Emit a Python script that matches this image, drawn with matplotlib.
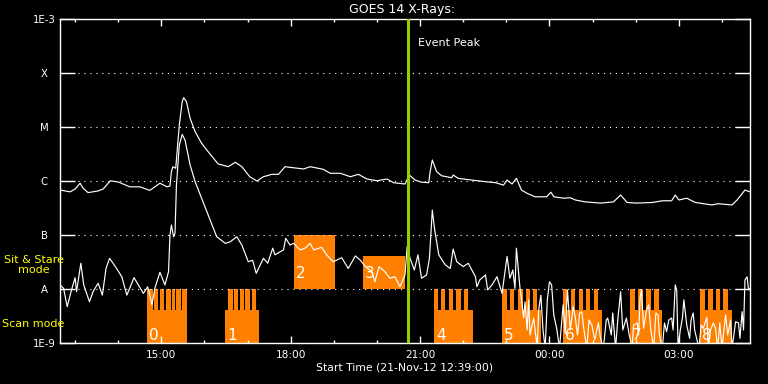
import matplotlib
matplotlib.use("Agg")
import matplotlib.pyplot as plt
from matplotlib.ticker import FixedLocator, NullLocator
import matplotlib.transforms as mtransforms

# minutes after start time 21-Nov-12 12:39:00
long_t = [0, 14, 21, 28, 32, 39, 52, 60, 70, 81, 97, 111, 125, 139, 149, 153, 155, 157, 161, 166,
          170, 172, 176, 181, 188, 197, 206, 220, 234, 244, 253, 264, 274, 283, 295, 304, 313, 320, 339, 348,
          366, 376, 390, 404, 415, 427, 441, 455, 464, 480, 486, 494, 503, 513, 515, 518, 524, 531, 545, 547,
          554, 573, 592, 606, 617, 622, 629, 635, 642, 650, 661, 677, 683, 687, 701, 710, 717, 731, 752, 770,
          780, 789, 802, 824, 838, 851, 856, 861, 872, 884, 907, 916, 935, 942, 953, 960]
long_f = [6.8e-7, 6.3e-7, 7.1e-7, 9.1e-7, 7.4e-7, 6.1e-7, 6.5e-7, 7.1e-7, 1.01e-6, 9.6e-7,
          7.8e-7, 7.8e-7, 6.7e-7, 9.1e-7, 7.8e-7, 8.1e-7, 1.49e-6, 1.84e-6, 1.72e-6, 1.09e-5,
          2.94e-5, 3.49e-5, 2.94e-5, 1.45e-5, 8.2e-6, 5.0e-6, 3.5e-6, 2.07e-6, 1.84e-6, 2.22e-6,
          1.84e-6, 1.2e-6, 1.0e-6, 1.2e-6, 1.33e-6, 1.33e-6, 1.84e-6, 1.79e-6, 1.67e-6, 1.84e-6,
          1.65e-6, 1.39e-6, 1.39e-6, 1.2e-6, 1.33e-6, 1.09e-6, 1.01e-6, 1.09e-6, 9.3e-7, 8.8e-7,
          1.29e-6, 1.04e-6, 9.5e-7, 9.3e-7, 1.49e-6, 2.45e-6, 1.49e-6, 1.25e-6, 1.15e-6, 1.29e-6,
          1.12e-6, 1.04e-6, 9.7e-7, 9.3e-7, 8.4e-7, 1.04e-6, 8.8e-7, 1.12e-6, 6.8e-7, 5.9e-7,
          5.1e-7, 5.1e-7, 6.2e-7, 5.1e-7, 4.8e-7, 4.9e-7, 4.45e-7, 4.1e-7, 3.9e-7, 4.1e-7,
          5.5e-7, 4.0e-7, 3.9e-7, 4.0e-7, 4.3e-7, 4.3e-7, 5.5e-7, 4.45e-7, 4.8e-7, 4.0e-7,
          3.6e-7, 3.8e-7, 3.6e-7, 4.45e-7, 6.8e-7, 6.3e-7]

short_t = [0, 5, 10, 16, 21, 23, 29, 33, 41, 46, 53, 59, 64, 69, 77, 86, 93, 103, 109, 116,
           122, 128, 132, 139, 146, 151, 153, 155, 158, 160, 162, 166, 170, 174, 181, 188, 197, 206, 218, 230,
           237, 246, 253, 262, 268, 273, 283, 289, 296, 299, 311, 314, 320, 325, 334, 341, 348, 353, 364, 371,
           380, 392, 401, 411, 418, 425, 434, 438, 444, 452, 459, 466, 473, 480, 483, 487, 493, 498, 503, 510,
           514, 518, 521, 527, 536, 543, 547, 552, 561, 568, 578, 580, 584, 592, 595, 601, 608, 615, 622, 626,
           630, 633, 635,
           640, 642, 645, 647, 650, 652, 654, 659, 664, 666, 669, 672, 675, 678, 681, 684, 687, 691, 695, 700,
           703, 706, 710, 714, 717, 720, 723, 726, 729, 733, 736, 740, 744, 749, 752, 756, 760, 762, 767, 769,
           773, 776, 780, 783, 788, 792, 796, 798, 803, 805, 807, 809, 812, 816, 819, 822, 826, 829, 832, 834,
           838, 841, 844, 847, 851, 853, 856, 858, 860, 863, 866, 868, 872, 876, 878, 881, 883, 889, 892, 895,
           900, 902, 905, 909, 912, 915, 918, 921, 926, 929, 933, 935, 940, 944, 946, 949, 951, 953, 956, 958,
           960]
short_f = [1.19e-8, 1.03e-8, 4.7e-9, 9.6e-9, 1.62e-8, 8.9e-9, 3.0e-8, 1.19e-8, 5.8e-9, 8.9e-9,
           1.28e-8, 7.7e-9, 2.4e-8, 3.7e-8, 2.6e-8, 1.69e-8, 7.7e-9, 1.62e-8, 1.19e-8, 8.3e-9,
           1.1e-8, 5.1e-9, 1.03e-8, 2.04e-8, 1.19e-8, 2.09e-8, 1.0e-7, 1.53e-7, 9.3e-8, 1.07e-7,
           8.4e-7, 4.6e-6, 7.3e-6, 5.7e-6, 1.98e-6, 9.7e-7, 4.8e-7, 2.35e-7, 9.3e-8, 7.0e-8,
           7.5e-8, 9.3e-8, 6.5e-8, 3.2e-8, 3.4e-8, 1.95e-8, 3.7e-8, 3.0e-8, 5.7e-8, 4.3e-8,
           5.3e-8, 8.7e-8, 6.5e-8, 7.0e-8, 5.3e-8, 5.7e-8, 7.0e-8, 5.3e-8, 5.9e-8, 4.3e-8,
           3.2e-8, 3.8e-8, 2.4e-8, 4.1e-8, 3.4e-8, 2.6e-8, 2.09e-8, 1.36e-8, 2.6e-8, 2.09e-8,
           1.58e-8, 1.69e-8, 1.1e-8, 1.82e-8, 6.1e-8, 3.7e-8, 2.25e-8, 4.3e-8, 1.58e-8, 1.82e-8,
           3.7e-8, 2.9e-7, 1.33e-7, 4.3e-8, 2.8e-8, 2.4e-8, 5.5e-8, 3.2e-8, 2.6e-8, 3.0e-8,
           1.69e-8, 1.1e-8, 1.47e-8, 1.82e-8, 9.6e-9, 1.19e-8, 1.69e-8, 8.3e-9, 4.0e-8, 1.58e-8,
           2.25e-8, 1.03e-8, 5.7e-8,
           1.03e-8, 6.7e-9, 2.9e-9, 5.8e-9, 1.74e-9, 6.3e-9, 1.41e-9, 2.9e-9, 8e-10, 4.1e-9,
           7.7e-9, 1.74e-9, 8e-10, 6.3e-9, 1.36e-8, 1.19e-8, 3.3e-9, 1.87e-9, 8e-10, 5.1e-9,
           1.51e-9, 9.6e-9, 1.74e-9, 4.7e-9, 2.9e-9, 1.41e-9, 3.6e-9, 3.8e-9, 1.74e-9, 8e-10,
           2.67e-9, 2.15e-9, 1.14e-9, 2.35e-9, 1.22e-9, 8e-10, 2.67e-9, 2.9e-9, 1.41e-9, 3.6e-9,
           8e-10, 2.67e-9, 8.9e-9, 1.74e-9, 2.9e-9, 1.41e-9, 8e-10, 2.15e-9, 2.35e-9, 1.41e-9,
           6.7e-9, 9.6e-9, 1.87e-9, 4.1e-9, 5.1e-9, 1.74e-9, 8e-10, 3.6e-9, 3.3e-9, 1.41e-9,
           8e-10, 2.35e-9, 1.62e-9, 2.67e-9, 2.9e-9, 1.74e-9, 1.19e-8, 9.6e-9, 8e-10, 1.74e-9,
           2.9e-9, 6.3e-9, 2.15e-9, 1.22e-9, 2.67e-9, 3.6e-9, 1.74e-9, 8e-10, 2.15e-9, 1.87e-9,
           3.0e-9, 8e-10, 1.74e-9, 2.35e-9, 1.87e-9, 8e-10, 2.35e-9, 8e-10, 3.3e-9, 1.41e-9,
           2.67e-9, 8e-10, 2.48e-9, 2.35e-9, 1.22e-9, 3.8e-9, 1.74e-9, 1.47e-8, 1.68e-8, 9.6e-9,
           1.03e-8]

# scan mode rasters: label, start, end and the step positions
scan_labels = ["0", "1", "4", "5", "6", "7", "8"]
scan_start = [121, 230, 521, 615, 700, 793, 891]
scan_end = [176, 277, 575, 669, 754, 838, 935]
scan_steps = [
    [(121, 129), (131, 137), (139, 145), (148, 154), (156, 160), (162, 168), (170, 176)],
    [(234, 240), (242, 248), (251, 256), (258, 264), (267, 273)],
    [(521, 526), (530, 536), (541, 547), (551, 558), (562, 568)],
    [(615, 622), (626, 632), (637, 644), (648, 654), (658, 664)],
    [(700, 706), (711, 717), (722, 728), (732, 738), (743, 749)],
    [(793, 800), (804, 811), (815, 822), (826, 833)],
    [(891, 898), (901, 908), (912, 918), (922, 929)],
]
scan_base_top = 4.1e-9
scan_step_top = 1e-8

# sit & stare
stare_labels = ["2", "3"]
stare_start = [326, 422]
stare_end = [383, 480]
stare_top = [1e-7, 4.1e-8]

event_peak = 484
t_span = 960

y_levels = [1e-9, 1e-8, 1e-7, 1e-6, 1e-5, 1e-4, 1e-3]
y_names = ["1E-9", "A", "B", "C", "M", "X", "1E-3"]
x_major = [141, 321, 501, 681, 861]
x_major_names = ["15:00", "18:00", "21:00", "00:00", "03:00"]
x_minor = [21, 81, 201, 261, 381, 441, 561, 621, 741, 801, 921]

orange = "#ff8000"
yellow = "#ffff00"
peak_col = "#99cc00"

plt.rcParams["lines.scale_dashes"] = False
fig = plt.figure(figsize=(7.68, 3.84), dpi=100, facecolor="black")
ax = fig.add_axes([60 / 768, 41 / 384, 690 / 768, 324 / 384], facecolor="black")
ax.set_yscale("log")
ax.set_xlim(0, t_span)
ax.set_ylim(1e-9, 1e-3)

ax.bar(stare_start, [t - 1e-8 for t in stare_top], width=[e - s for s, e in zip(stare_start, stare_end)],
       bottom=1e-8, align="edge", color=orange, linewidth=0, zorder=1)
for lab, s in zip(stare_labels, stare_start):
    ax.annotate(lab, (s, 1e-8), xytext=(1.2, 8), textcoords="offset points",
                color="white", fontsize=11, va="baseline", ha="left", zorder=4)

for lab, s, e, steps in zip(scan_labels, scan_start, scan_end, scan_steps):
    ax.bar(s, scan_base_top - 1e-9, width=e - s, bottom=1e-9, align="edge",
           color=orange, linewidth=0, zorder=1)
    ax.bar([a for a, b in steps], scan_step_top - 1e-9, width=[b - a for a, b in steps],
           bottom=1e-9, align="edge", color=orange, linewidth=0, zorder=1)
    ax.annotate(lab, (s, 1e-9), xytext=(1.2, 2.5), textcoords="offset points",
                color="white", fontsize=11, va="baseline", ha="left", zorder=4)

ax.plot(long_t, long_f, color="white", lw=0.85, zorder=3)
ax.plot(short_t, short_f, color="white", lw=0.85, zorder=3)
ax.axvline(event_peak, color=peak_col, lw=2.2, zorder=5)
trans = mtransforms.blended_transform_factory(ax.transData, ax.transAxes)
ax.annotate("Event Peak", (event_peak, 0.926), xycoords=trans, xytext=(7.5, 0),
            textcoords="offset points", color="white", fontsize=8, va="center", ha="left")

# axes styling, IDL look
for sp in ax.spines.values():
    sp.set_color("white")
    sp.set_linewidth(1.0)
ax.yaxis.set_major_locator(FixedLocator(y_levels))
ax.yaxis.set_minor_locator(NullLocator())
ax.set_yticklabels(y_names)
ax.tick_params(axis="y", which="major", direction="in", length=10.8, width=1.0,
               left=True, right=True, colors="white", labelsize=7.3, pad=11.5)
for lbl in ax.get_yticklabels():
    lbl.set_horizontalalignment("center")
ax.xaxis.set_major_locator(FixedLocator(x_major))
ax.xaxis.set_minor_locator(FixedLocator(x_minor))
ax.set_xticklabels(x_major_names)
ax.tick_params(axis="x", which="major", direction="in", length=4.8, width=1.0,
               top=True, bottom=True, colors="white", labelsize=7.6, pad=5)
ax.tick_params(axis="x", which="minor", direction="in", length=2.4, width=1.0,
               top=True, bottom=True, colors="white")
ax.grid(axis="y", which="major", color="white", linestyle=(0, (0.8, 3.5)), linewidth=0.8)
ax.set_axisbelow(False)

fig.text(402 / 768, 1 - 9.5 / 384, "GOES 14 X-Rays:", color="white", fontsize=9, ha="center", va="center")
fig.text(405 / 768, 1 - 368 / 384, "Start Time (21-Nov-12 12:39:00)", color="white", fontsize=7.8,
         ha="center", va="center")
fig.text(34 / 768, 1 - 265 / 384, "Sit & Stare\nmode", color=yellow, fontsize=8, ha="center",
         va="center", multialignment="center", linespacing=1.05)
fig.text(2 / 768, 1 - 324 / 384, "Scan mode", color=yellow, fontsize=8, ha="left", va="center")

fig.savefig("out.png", dpi=100, facecolor="black")
